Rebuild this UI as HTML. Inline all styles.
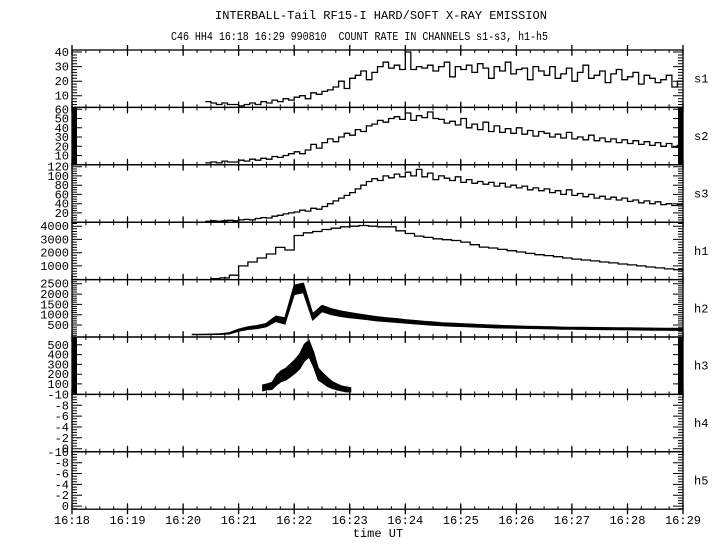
<!DOCTYPE html>
<html><head><meta charset="utf-8"><style>
html,body{margin:0;padding:0;background:#fff;}
svg{display:block;font-family:"Liberation Mono",monospace;}
</style></head><body>
<svg id="chart" width="720" height="550" viewBox="0 0 720 550" xmlns="http://www.w3.org/2000/svg">
<text x="215" y="19" font-size="12" textLength="332" lengthAdjust="spacingAndGlyphs">INTERBALL-Tail RF15-I HARD/SOFT X-RAY EMISSION</text>
<text x="171" y="40" font-size="12" textLength="377" lengthAdjust="spacingAndGlyphs" xml:space="preserve">C46 HH4 16:18 16:29 990810  COUNT RATE IN CHANNELS s1-s3, h1-h5</text>
<text x="378" y="537" font-size="12" text-anchor="middle">time UT</text>
<g id="g"></g>
</svg>
<script>
// time in seconds after 16:18
const xTickLabels = ["16:18","16:19","16:20","16:21","16:22","16:23","16:24","16:25","16:26","16:27","16:28","16:29"];
const s1Start = 144, s1Step = 6;
const s1Values = [6,5,4,5,4,4,3, 4,5,4,6,5,7,6,8,7, 9,10,8,12,11,13, 14,16,20,15,22, 24,27,21,26,30,33,29,31,28,40, 28,30,29,31,27,30,33,23,30,28, 31,26,32,29,22,30,27,33,25,28, 29,21,30,27,24,30,22,25,29,20, 26,31,22,24,27,19,25,28,21,23, 26,18,24,22,19,21,24,16,20];
const s2Start = 144, s2Step = 6;
const s2Values = [2,3,2,4,3,3,5, 4,6,5,7,6,9,8,10,12, 14,12,16,22,18,24, 28,25,30,34,32, 38,36,42,44,48,46,50,52,49,56, 48,53,51,57,50,49,45,47,43,50, 40,44,38,46,36,42,35,39,34,40, 33,37,31,36,34,30,33,29,35,28, 30,27,32,26,29,25,28,24,27,23, 26,22,25,21,24,20,23,19,21];
const s3Start = 144, s3Step = 6;
const s3Values = [2,3,2,3,4,3,5, 6,5,8,10,9,13,15,18,20, 22,26,24,30,28,34, 40,46,52,58,64, 72,80,88,94,90,100,96,104,98,108, 100,114,98,106,92,100,95,90,98,86, 92,84,88,82,86,78,84,76,80,74, 78,70,74,68,72,64,68,60,70,58, 62,55,60,52,56,50,54,48,52,45, 48,42,46,40,44,38,40,36,38];
const h1Start = 150, h1Step = 10;
const h1Values = [40,100,300,1000,1300,1600,1900,2400,2200,3300,3500,3600,3750,3850,3950,4000,4050,4000,3950,3950,3650,3450,3250,3150,3050,2980,2920,2800,2600,2420,2350,2250,2150,2050,1950,1850,1780,1700,1600,1520,1450,1380,1300,1230,1150,1080,1000,920,850,780,720];
const h2Start = 130, h2Step = 10;
const h2Mid = [40,40,50,60,100,250,350,400,500,800,700,2200,2300,900,1300,1150,1050,980,920,860,800,760,720,680,640,600,570,540,520,500,480,460,440,420,410,400,390,380,370,360,350,345,340,335,330,325,320,315,310,305,300,295,290,285];
const h2Spread = [20,20,20,30,60,100,120,140,160,250,300,450,450,300,300,280,260,240,220,200,200,180,180,160,160,150,150,140,140,130,130,120,120,120,110,110,100,100,100,100,90,90,90,90,90,90,90,90,90,90,90,90,90,90];
const h3Start = 206, h3Step = 5;
const h3Mid = [60,70,80,140,180,200,240,280,330,420,460,350,200,160,120,90,70,55,45,40];
const h3Spread = [60,60,70,100,110,120,130,140,150,170,170,150,120,100,90,70,60,50,50,40];

const X0 = 72, X1 = 683, TMAX = 660;
const PT = 50, PH = 57.4;
const xs = t => X0 + t * (X1 - X0) / TMAX;
const panels = [
 {id:"s1", lo:2, hi:41.4, ticks:[10,20,30,40], minor:2},
 {id:"s2", lo:0, hi:62, ticks:[10,20,30,40,50,60], minor:1},
 {id:"s3", lo:0, hi:124, ticks:[20,40,60,80,100,120], minor:5},
 {id:"h1", lo:-30, hi:4300, ticks:[1000,2000,3000,4000], minor:200},
 {id:"h2", lo:-80, hi:2700, ticks:[500,1000,1500,2000,2500], minor:100},
 {id:"h3", lo:-7, hi:580, ticks:[100,200,300,400,500], minor:10},
 {id:"h4", lo:-10, hi:0.57, ticks:[-10,-8,-6,-4,-2,0], minor:0.5, rev:true},
 {id:"h5", lo:-10, hi:0.57, ticks:[-10,-8,-6,-4,-2,0], minor:0.5, rev:true}
];
const NS = "http://www.w3.org/2000/svg";
const G = document.getElementById("g");
function mk(tag, attrs, parent){const e=document.createElementNS(NS,tag);for(const k in attrs)e.setAttribute(k,attrs[k]);(parent||G).appendChild(e);return e;}
function yScale(p,i){const top=PT+i*PH,bot=top+PH;return v=>p.rev? top+(v-p.lo)/(p.hi-p.lo)*PH : bot-(v-p.lo)/(p.hi-p.lo)*PH;}

panels.forEach((p,i)=>{
  const top=PT+i*PH, bot=top+PH, y=yScale(p,i);
  const grp=mk("g",{});
  
  
  const fr=mk("rect",{x:X0,y:top,width:X1-X0,height:PH,fill:"none",stroke:"#000","stroke-width":1.3},grp);
  
  
  let d="";
  const start=Math.ceil(p.lo/p.minor)*p.minor;
  for(let v=start; v<=p.hi+1e-9; v+=p.minor){const yy=y(v).toFixed(1);d+=`M${X0} ${yy}h5M${X1} ${yy}h-5`;}
  p.ticks.forEach(v=>{const yy=y(v).toFixed(1);d+=`M${X0} ${yy}h10M${X1} ${yy}h-10`;});
  for(let t=0;t<=TMAX;t+=15){const xx=xs(t).toFixed(1);const L=(t%60===0)?6:3;d+=`M${xx} ${top}v${L}M${xx} ${bot}v-${L}`;}
  const tk=mk("path",{d:d,stroke:"#000","stroke-width":1,fill:"none"},grp);
  
  
  p.ticks.forEach(v=>{
    const t=mk("text",{x:X0-3,y:y(v)+4,"font-size":12,"text-anchor":"end"},grp);
    t.textContent=String(v);
    
    
  });
  const lab=mk("text",{x:694,y:top+PH/2+4,"font-size":12},grp);
  lab.textContent=p.id;
  
  
});
let md="";
for(let m=0;m<=11;m++){const xx=xs(m*60).toFixed(1);for(let i=0;i<=8;i++){md+=`M${xx} ${PT+i*PH-5}v10`;}}
const mt=mk("path",{d:md,stroke:"#000","stroke-width":1.3});


xTickLabels.forEach((s,m)=>{
  const t=mk("text",{x:xs(m*60),y:PT+8*PH+15,"font-size":12,"text-anchor":"middle"});
  t.textContent=s;
  
  
});
function stepPath(vals,start,step,y){let d="";vals.forEach((v,k)=>{const x0=xs(start+k*step),x1=Math.min(xs(start+(k+1)*step),X1),yy=y(v);d+=(k===0?`M${x0.toFixed(1)} ${yy.toFixed(1)}`:`V${yy.toFixed(1)}`)+`H${x1.toFixed(1)}`;});return d;}
[[s1Values,s1Start,s1Step,0],[s2Values,s2Start,s2Step,1],[s3Values,s3Start,s3Step,2],[h1Values,h1Start,h1Step,3]].forEach(a=>{
  const y=yScale(panels[a[3]],a[3]);
  const pth=mk("path",{d:stepPath(a[0],a[1],a[2],y),fill:"none",stroke:"#000","stroke-width":1.3});
  
  
});
function band(mid,spread,start,step,i){
  const y=yScale(panels[i],i);let up="",dn="";
  mid.forEach((v,k)=>{const x=Math.min(xs(start+k*step),X1).toFixed(1);up+=(k?"L":"M")+x+" "+y(v+spread[k]/2).toFixed(1);});
  for(let k=mid.length-1;k>=0;k--){dn+="L"+Math.min(xs(start+k*step),X1).toFixed(1)+" "+y(mid[k]-spread[k]/2).toFixed(1);}
  const b=mk("path",{d:up+dn+"Z",fill:"#000",stroke:"#000","stroke-width":1.2});
  
  
}
band(h2Mid,h2Spread,h2Start,h2Step,4);
band(h3Mid,h3Spread,h3Start,h3Step,5);
</script>
</body></html>
